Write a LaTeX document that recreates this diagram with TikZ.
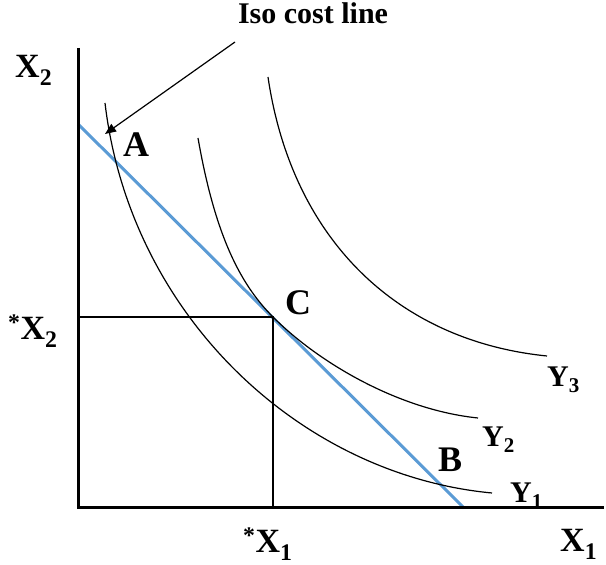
\documentclass[tikz,border=0pt]{standalone}
\usepackage{fontspec}
\setmainfont{Liberation Serif}
\usetikzlibrary{arrows.meta}
\definecolor{costblue}{HTML}{5B9BD5}

\begin{document}
\begin{tikzpicture}[x=1pt,y=1pt, every node/.style={inner sep=0pt,anchor=base west}, big/.style={font=\bfseries\fontsize{36}{40}\selectfont}, ax/.style={font=\bfseries\fontsize{34}{38}\selectfont}, yl/.style={font=\bfseries\fontsize{30}{34}\selectfont}, curve/.style={line width=1.2pt}, guide/.style={line width=1.1pt}]
\useasboundingbox (0,0) rectangle (606,565);
\coordinate (O) at (78,57);\coordinate (ytop) at (78,517);\coordinate (xend) at (604,57);
\coordinate (costtop) at (78,441);\coordinate (costbot) at (464,57);
\coordinate (C) at (273,248);\coordinate (h) at (80,248);\coordinate (v) at (273,57);
% budget line
\draw[costblue,line width=3pt] (costtop)--(costbot);
% isoquants
\draw[curve] (105,462) .. controls (130,250) and (300,90) .. (492,72);
\draw[curve] (198,427) .. controls (215,330) and (240,281) .. (C) .. controls (320,201) and (400,155) .. (478,147);
\draw[curve] (268,488) .. controls (292,325) and (398,224) .. (547,209);
\draw[guide] (h)--(C)--(v);
\draw[line width=3pt] (ytop)--(O)--(xend);
% labels
\node[font=\bfseries\fontsize{30}{34}\selectfont,anchor=base] (iso) at (313,541) {Iso cost line};
\coordinate (isofoot) at (235,523);\coordinate (tip) at (105,431);
\draw[line width=1.2pt,-{Triangle[length=11pt,width=9pt]}] (isofoot)--(tip);
\node[ax] (x2) at (15,487) {X\textsubscript{2}};
\node[ax] (x2s) at (8,225) {\textsuperscript{*}X\textsubscript{2}};
\node[ax] (x1s) at (243,12) {\textsuperscript{*}X\textsubscript{1}};
\node[ax] (x1) at (560,13) {X\textsubscript{1}};
\node[big] (a) at (123,408) {A};
\node[big] (c) at (285,250) {C};
\node[big] (b) at (438,93) {B};
\node[yl] (y3) at (547,178) {Y\textsubscript{3}};
\node[yl] (y2) at (482,118) {Y\textsubscript{2}};
\node[yl] (y1) at (510,62) {Y\textsubscript{1}};
\end{tikzpicture}
\end{document}
